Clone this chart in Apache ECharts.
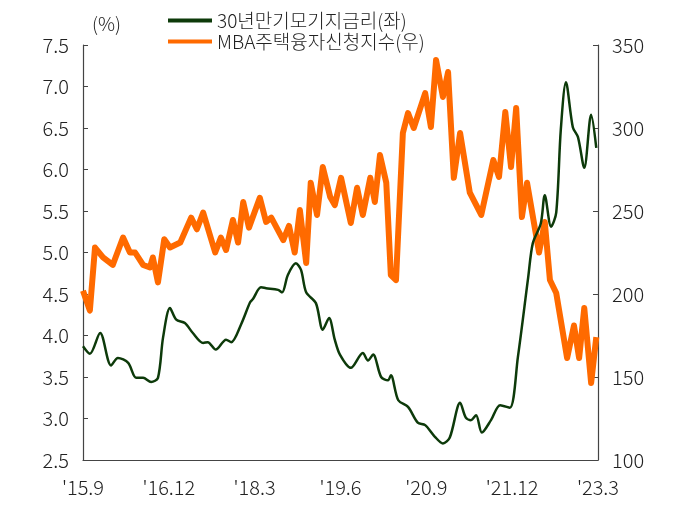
<!DOCTYPE html>
<html><head><meta charset="utf-8">
<script src="https://cdn.jsdelivr.net/npm/echarts@6/dist/echarts.min.js"></script>
<style>html,body{margin:0;padding:0;background:#fff}#c{width:694px;height:507px}</style>
</head><body><div id="c"></div>
<script>
const tickLabels = ["'15.9","'16.12","'18.3","'19.6","'20.9","'21.12","'23.3"];
const rateMonths = [0,1.2,3.0,4.9,6.1,7.9,9.3,10.5,11.9,13.1,14.0,15.2,16.3,17.8,19.2,21.0,21.8,23.2,25.0,25.9,27.6,29.2,29.7,31.1,32.0,34.1,34.8,35.8,37.2,38.1,39.0,40.7,41.9,43.0,44.0,44.9,46.8,48.9,49.8,50.7,52.1,53.3,53.8,55.1,56.8,58.5,59.8,61.5,62.9,64.1,65.9,66.9,67.8,68.7,69.7,71.3,72.9,74.6,76.0,77.8,78.6,80.0,80.7,81.8,82.7,83.5,84.4,85.6,86.5,87.6,88.8,89.7];
const rateValues = [3.87,3.78,4.03,3.64,3.73,3.67,3.49,3.49,3.44,3.49,3.98,4.33,4.19,4.15,4.03,3.91,3.92,3.83,3.95,3.92,4.13,4.40,4.44,4.58,4.57,4.55,4.52,4.73,4.87,4.79,4.52,4.39,4.07,4.21,3.95,3.77,3.61,3.79,3.70,3.77,3.50,3.46,3.52,3.22,3.14,2.95,2.92,2.78,2.70,2.77,3.19,3.01,2.98,3.04,2.83,2.98,3.16,3.13,3.74,4.70,5.11,5.35,5.69,5.31,5.48,6.48,7.05,6.51,6.39,6.02,6.66,6.26];
const mbaMonths = [0,1.2,2.1,3.5,5.2,7.0,8.2,9.1,10.5,11.7,12.2,13.1,14.2,15.2,17.0,18.9,19.9,21.0,23.1,24.1,25.0,26.2,27.1,28.0,29.0,30.9,32.0,32.9,35.0,36.0,37.0,37.9,39.0,39.8,40.9,41.9,43.2,44.0,45.1,46.8,47.9,48.9,50.2,51.0,51.9,53.0,53.8,54.7,55.9,56.8,57.8,59.8,60.8,61.7,62.9,63.8,64.8,65.9,67.6,69.6,71.7,72.7,73.8,74.8,75.7,76.7,77.6,79.7,80.7,81.6,82.7,84.6,85.8,86.7,87.6,88.8,89.7];
const mbaValues = [202,190,228,222,217.5,234,225,225,217.5,216,222,207,233,228,231,246,239,249,225,234,226.5,244.6,231,255.4,240,258,243.4,246,232.5,241,225,250.6,218.7,267,247.6,276.5,258.4,253.6,270,242.8,264,247.6,270,255.4,283.7,267,211.4,208.4,297,309,300,321,300.6,341,318.7,333.7,270,297,261,247.6,280.7,270.5,309.6,276.5,312,246.4,267,225,243.4,208.4,200.6,161.4,181,161.4,191.6,146.4,174];
const rateName = '30년만기모기지금리(좌)';
const mbaName = 'MBA주택융자신청지수(우)';
const zip = (a,b)=>a.map((x,i)=>[x,b[i]]);
const font = 'Noto Sans CJK KR';
const chart = echarts.init(document.getElementById('c'));
const axisCommon = {axisLine:{show:true,lineStyle:{color:'#444',width:1.2}},axisTick:{show:true,inside:true,length:5,lineStyle:{color:'#444'}},splitLine:{show:false},axisLabel:{color:'#222',fontSize:20,fontWeight:300,fontFamily:font}};
chart.setOption({
  animation:false,
  textStyle:{fontFamily:font},
  grid:{left:83,right:96,top:45,bottom:47},
  legend:{top:6,left:163,orient:'vertical',itemGap:2,itemWidth:44,itemHeight:4,textStyle:{fontSize:19,fontWeight:300,color:'#222',fontFamily:font},icon:'rect',
    data:[{name:rateName},{name:mbaName}]},
  graphic:[{type:'text',left:92,top:14,style:{text:'(%)',fontSize:19,fontWeight:300,fill:'#222',fontFamily:font}}],
  xAxis:{type:'value',min:0,max:90,interval:15,...axisCommon,axisTick:{show:false},
    axisLabel:{...axisCommon.axisLabel,margin:17,formatter:(v)=>tickLabels[Math.round(v/15)]}},
  yAxis:[
    {type:'value',min:2.5,max:7.5,interval:0.5,...axisCommon,axisLabel:{...axisCommon.axisLabel,margin:14,formatter:v=>v.toFixed(1)}},
    {type:'value',min:100,max:350,interval:50,position:'right',...axisCommon,axisLabel:{...axisCommon.axisLabel,margin:14}}
  ],
  series:[
    {name:rateName,type:'line',yAxisIndex:0,data:zip(rateMonths,rateValues),showSymbol:false,smooth:0.3,lineStyle:{color:'#0d3a0a',width:2.5},itemStyle:{color:'#0d3a0a'},z:3},
    {name:mbaName,type:'line',yAxisIndex:1,data:zip(mbaMonths,mbaValues),showSymbol:false,lineStyle:{color:'#ff6a00',width:6,join:'round'},itemStyle:{color:'#ff6a00'},z:2}
  ]
});
</script></body></html>
